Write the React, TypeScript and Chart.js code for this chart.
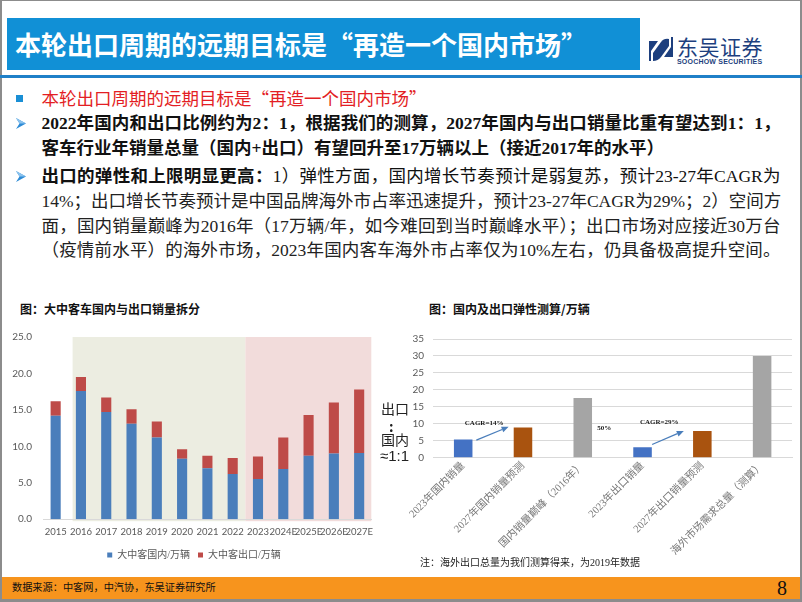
import React, { useEffect, useRef } from "react";
import { Chart, registerables } from "chart.js";
Chart.register(...registerables);

// ---------- data ----------
const years = ["2015", "2016", "2017", "2018", "2019", "2020", "2021", "2022", "2023", "2024E", "2025E", "2026E", "2027E"];
const domesticSales = [14.2, 17.6, 14.7, 13.1, 11.2, 8.3, 7.0, 6.2, 5.5, 6.9, 8.7, 9.0, 9.1];
const exportSales = [2.0, 1.9, 2.0, 2.0, 2.2, 1.3, 1.7, 2.2, 3.1, 4.3, 5.6, 7.0, 8.7];
const domesticLabel = "大中客国内/万辆";
const exportLabel = "大中客出口/万辆";

const elasticCats = ["2023年国内销量", "2027年国内销量预测", "国内销量巅峰（2016年）", "2023年出口销量", "2027年出口销量预测", "海外市场需求总量（测算）"];
const elasticVals = [5.4, 8.9, 17.6, 3.1, 7.9, 30];
const elasticColors = ["#4472c4", "#a9530f", "#a5a5a5", "#4472c4", "#a9530f", "#a5a5a5"];

// annotations in data space (category index, value)
const cagrTexts = [
  { text: "CAGR=14%", x: 0.35, y: 10.1 },
  { text: "50%", x: 2.36, y: 8.8 },
  { text: "CAGR=29%", x: 3.28, y: 10.5 },
];
const cagrArrows = [
  { x0: 0.22, y0: 5.2, x1: 0.76, y1: 9.1 },
  { x0: 3.16, y0: 3.9, x1: 3.69, y1: 7.9 },
];

const shadeBands = [
  { from: 0.67, to: 7.5, color: "#ecede1" },
  { from: 7.5, to: 12.48, color: "#f2dcdb" },
];

const SERIF = "'Liberation Serif', 'Noto Sans CJK SC', serif";
const SANS = "'Noto Sans CJK SC', sans-serif";

function LeftChart() {
  const ref = useRef<HTMLCanvasElement>(null);
  useEffect(() => {
    const shade = {
      id: "shade",
      beforeDraw(chart: any) {
        const { ctx, scales } = chart;
        const x = scales.x, y = scales.y;
        const top = y.getPixelForValue(25);
        const bottom = y.getPixelForValue(0) + 2;
        ctx.save();
        shadeBands.forEach((b) => {
          const x0 = x.getPixelForValue(b.from);
          const x1 = x.getPixelForValue(b.to);
          ctx.fillStyle = b.color;
          ctx.fillRect(x0, top, x1 - x0, bottom - top);
        });
        ctx.restore();
      },
    };
    const chart = new Chart(ref.current!, {
      type: "bar",
      data: {
        labels: years,
        datasets: [
          { label: domesticLabel, data: domesticSales, backgroundColor: "#4a7ebb", barPercentage: 0.4, categoryPercentage: 1 },
          { label: exportLabel, data: exportSales, backgroundColor: "#be4b48", barPercentage: 0.4, categoryPercentage: 1 },
        ],
      },
      options: {
        animation: false,
        responsive: false,
        layout: { padding: { top: 12.7, right: 2, left: 0, bottom: 0 } },
        plugins: {
          legend: {
            position: "bottom",
            labels: { boxWidth: 5, boxHeight: 5, padding: 8, color: "#595959", font: { size: 10, family: SERIF } },
          },
          tooltip: { enabled: false },
        },
        scales: {
          x: {
            stacked: true,
            grid: { display: false, drawTicks: false },
            border: { display: true, color: "#d9d9d9" },
            ticks: { autoSkip: false, maxRotation: 0, minRotation: 0, padding: 7, color: "#595959", font: { size: 9.5, family: "Lato" } },
            afterFit(s: any) { s.height = 22.8; },
          },
          y: {
            stacked: true,
            min: 0,
            max: 25,
            grid: { display: false, drawTicks: false },
            border: { display: false },
            ticks: { stepSize: 5, padding: 11, color: "#595959", font: { size: 10, family: "Lato" }, callback: (v: any) => Number(v).toFixed(1) },
            afterFit(s: any) { s.width = 33; },
          },
        },
      },
      plugins: [shade],
    });
    return () => chart.destroy();
  }, []);
  return <canvas ref={ref} width={370} height={250} style={{ position: "absolute", left: 10, top: 320 }} />;
}

function RightChart() {
  const ref = useRef<HTMLCanvasElement>(null);
  useEffect(() => {
    const notes = {
      id: "notes",
      afterDatasetsDraw(chart: any) {
        const { ctx, scales } = chart;
        const x = scales.x, y = scales.y;
        ctx.save();
        ctx.strokeStyle = "#4a7ebb";
        ctx.fillStyle = "#4a7ebb";
        ctx.lineWidth = 1.3;
        cagrArrows.forEach((a) => {
          const px0 = x.getPixelForValue(a.x0), py0 = y.getPixelForValue(a.y0);
          const px1 = x.getPixelForValue(a.x1), py1 = y.getPixelForValue(a.y1);
          const ang = Math.atan2(py1 - py0, px1 - px0);
          const hl = 7;
          const bx = px1 - hl * Math.cos(ang), by = py1 - hl * Math.sin(ang);
          ctx.beginPath();
          ctx.moveTo(px0, py0);
          ctx.lineTo(bx, by);
          ctx.stroke();
          ctx.beginPath();
          ctx.moveTo(px1, py1);
          ctx.lineTo(bx + 3 * Math.sin(ang), by - 3 * Math.cos(ang));
          ctx.lineTo(bx - 3 * Math.sin(ang), by + 3 * Math.cos(ang));
          ctx.closePath();
          ctx.fill();
        });
        ctx.fillStyle = "#1a1a1a";
        ctx.font = "bold 7px 'Liberation Serif', serif";
        ctx.textAlign = "center";
        ctx.textBaseline = "middle";
        cagrTexts.forEach((t) => {
          ctx.fillText(t.text, x.getPixelForValue(t.x), y.getPixelForValue(t.y));
        });
        ctx.restore();
      },
    };
    const chart = new Chart(ref.current!, {
      type: "bar",
      data: {
        labels: elasticCats,
        datasets: [
          { data: elasticVals, backgroundColor: elasticColors, barPercentage: 0.31, categoryPercentage: 1 },
        ],
      },
      options: {
        animation: false,
        responsive: false,
        layout: { padding: { top: 19, right: 8, left: 0, bottom: 0 } },
        plugins: { legend: { display: false }, tooltip: { enabled: false } },
        scales: {
          x: {
            grid: { display: false, drawTicks: false },
            border: { display: true, color: "#d9d9d9" },
            ticks: { autoSkip: false, maxRotation: 45, minRotation: 45, padding: 2, color: "#767676", font: { size: 10.5, family: SERIF } },
            afterFit(s: any) { s.height = 107.3; },
          },
          y: {
            min: 0,
            max: 35,
            grid: { color: "#d9d9d9", drawTicks: false },
            border: { display: false },
            ticks: { stepSize: 5, padding: 9.3, color: "#595959", font: { size: 10, family: "Lato" } },
            afterFit(s: any) { s.width = 53.3; },
          },
        },
      },
      plugins: [notes],
    });
    return () => chart.destroy();
  }, []);
  return <canvas ref={ref} width={420} height={245} style={{ position: "absolute", left: 380, top: 320 }} />;
}

function Arrow({ y }: { y: number }) {
  return (
    <svg width={10} height={11} style={{ position: "absolute", left: 16, top: y - 5.5 }}>
      <path d="M0 0 L10 5.5 L0 11 L3.5 5.5 Z" fill="#2d8bd6" />
      <path d="M0 0 L10 5.5 L3.5 5.5 Z" fill="#8cc3ee" />
    </svg>
  );
}

function Line(props: { y: number; width?: number; justify?: boolean; children: any; color?: string }) {
  return (
    <div
      style={{
        position: "absolute",
        left: 41.5,
        top: props.y - 13,
        height: 26,
        lineHeight: "26px",
        width: props.width ?? 739,
        fontSize: 17.5,
        fontFamily: SERIF,
        color: props.color ?? "#111",
        textAlign: props.justify ? "justify" : "left",
        textAlignLast: props.justify ? "justify" : "auto",
        whiteSpace: "nowrap",
      } as any}
    >
      {props.children}
    </div>
  );
}

const Q = (s: string) => <span style={{ fontFamily: SANS }}>{s}</span>;

export default function App() {
  return (
    <div style={{ position: "absolute", left: 0, top: 0, width: 802, height: 602, background: "#fff", overflow: "hidden", fontFamily: SERIF }}>
      {/* frame */}
      <div style={{ position: "absolute", left: 0, top: 0, width: 802, height: 1, background: "#8c8c8c" }} />
      <div style={{ position: "absolute", left: 0, top: 0, width: 2, height: 602, background: "#8c8c8c" }} />
      <div style={{ position: "absolute", left: 800, top: 0, width: 2, height: 602, background: "#8c8c8c" }} />
      <div style={{ position: "absolute", left: 0, top: 599, width: 802, height: 3, background: "#8c8c8c" }} />

      {/* title bar */}
      <div style={{ position: "absolute", left: 7, top: 18, width: 633, height: 52, background: "#1190d6" }} />
      <div style={{ position: "absolute", left: 15, top: 18, height: 52, lineHeight: "52px", fontSize: 26, fontWeight: 700, color: "#fff", fontFamily: SANS, whiteSpace: "nowrap" }}>
        本轮出口周期的远期目标是“再造一个国内市场”
      </div>
      {/* logo */}
      <svg width={24} height={24} style={{ position: "absolute", left: 649, top: 37 }}>
        <path d="M0 4 L9 4 L2 14 L2 24 L0 24 Z" fill="#1d3f7e" />
        <path d="M24 20 L15 20 L22 10 L22 0 L24 0 Z" fill="#1d3f7e" />
        <path d="M4 24 L4 16 L12 5 Q15 1 20 2 L20 9 L12 20 Q9 24 4 24 Z" fill="#1d3f7e" />
      </svg>
      <div style={{ position: "absolute", left: 677, top: 33, height: 26, lineHeight: "26px", fontSize: 21, color: "#1d3f7e", fontFamily: SANS, letterSpacing: 0.5, whiteSpace: "nowrap" }}>东吴证券</div>
      <div style={{ position: "absolute", left: 677, top: 57, height: 9, lineHeight: "9px", fontSize: 7, fontWeight: 700, color: "#1d3f7e", fontFamily: "'Liberation Sans', sans-serif", letterSpacing: 0.2, whiteSpace: "nowrap" }}>SOOCHOW SECURITIES</div>
      <div style={{ position: "absolute", left: 0, top: 75, width: 802, height: 3, background: "#1f80c8" }} />

      {/* bullets */}
      <div style={{ position: "absolute", left: 16, top: 95, width: 7, height: 7, background: "#1a8fd5" }} />
      <Line y={98} color="#e31e24" width={600}>本轮出口周期的远期目标是{Q("“")}再造一个国内市场{Q("”")}</Line>
      <Arrow y={123} />
      <Line y={123} justify><b>2022年国内和出口比例约为2：1，根据我们的测算，2027年国内与出口销量比重有望达到1：1，</b></Line>
      <Line y={148} width={700}><b>客车行业年销量总量（国内+出口）有望回升至17万辆以上（接近2017年的水平）</b></Line>
      <Arrow y={176} />
      <Line y={176} justify><b>出口的弹性和上限明显更高：</b>1）弹性方面，国内增长节奏预计是弱复苏，预计23-27年CAGR为</Line>
      <Line y={200.5} justify color="#222">14%；出口增长节奏预计是中国品牌海外市占率迅速提升，预计23-27年CAGR为29%；2）空间方</Line>
      <Line y={226} justify color="#222">面，国内销量巅峰为2016年（17万辆/年，如今难回到当时巅峰水平）；出口市场对应接近30万台</Line>
      <Line y={250} justify color="#222">（疫情前水平）的海外市场，2023年国内客车海外市占率仅为10%左右，仍具备极高提升空间。</Line>

      {/* chart titles */}
      <div style={{ position: "absolute", left: 20, top: 301, height: 16, lineHeight: "16px", fontSize: 12, fontWeight: 700, color: "#111", fontFamily: SANS, whiteSpace: "nowrap" }}>图：大中客车国内与出口销量拆分</div>
      <div style={{ position: "absolute", left: 429, top: 301, height: 16, lineHeight: "16px", fontSize: 12, fontWeight: 700, color: "#111", fontFamily: SANS, whiteSpace: "nowrap" }}>图：国内及出口弹性测算/万辆</div>

      <LeftChart />
      <RightChart />

      {/* side ratio text */}
      <div style={{ position: "absolute", left: 381, top: 399, fontSize: 14, lineHeight: "18px", color: "#222", fontFamily: SANS, whiteSpace: "nowrap" }}>出口</div>
      <div style={{ position: "absolute", left: 389, top: 417, fontSize: 14, lineHeight: "18px", color: "#222", fontFamily: SANS, fontWeight: 700 }}>:</div>
      <div style={{ position: "absolute", left: 381, top: 430, fontSize: 14, lineHeight: "18px", color: "#222", fontFamily: SANS, whiteSpace: "nowrap" }}>国内</div>
      <div style={{ position: "absolute", left: 380, top: 447, fontSize: 15, lineHeight: "18px", color: "#222", fontFamily: "'Liberation Sans', sans-serif", whiteSpace: "nowrap" }}>≈1:1</div>

      {/* note */}
      <div style={{ position: "absolute", left: 420, top: 556, fontSize: 10, lineHeight: "14px", color: "#222", fontFamily: SERIF, whiteSpace: "nowrap" }}>注：海外出口总量为我们测算得来，为2019年数据</div>

      {/* footer */}
      <div style={{ position: "absolute", left: 2, top: 577, width: 798, height: 22, background: "#f7941d" }} />
      <div style={{ position: "absolute", left: 12, top: 580, fontSize: 10.2, lineHeight: "16px", color: "#111", fontFamily: SERIF, whiteSpace: "nowrap" }}>数据来源：中客网，中汽协，东吴证券研究所</div>
      <div style={{ position: "absolute", left: 777, top: 577, fontSize: 20, lineHeight: "22px", color: "#111", fontFamily: SERIF }}>8</div>
    </div>
  );
}
